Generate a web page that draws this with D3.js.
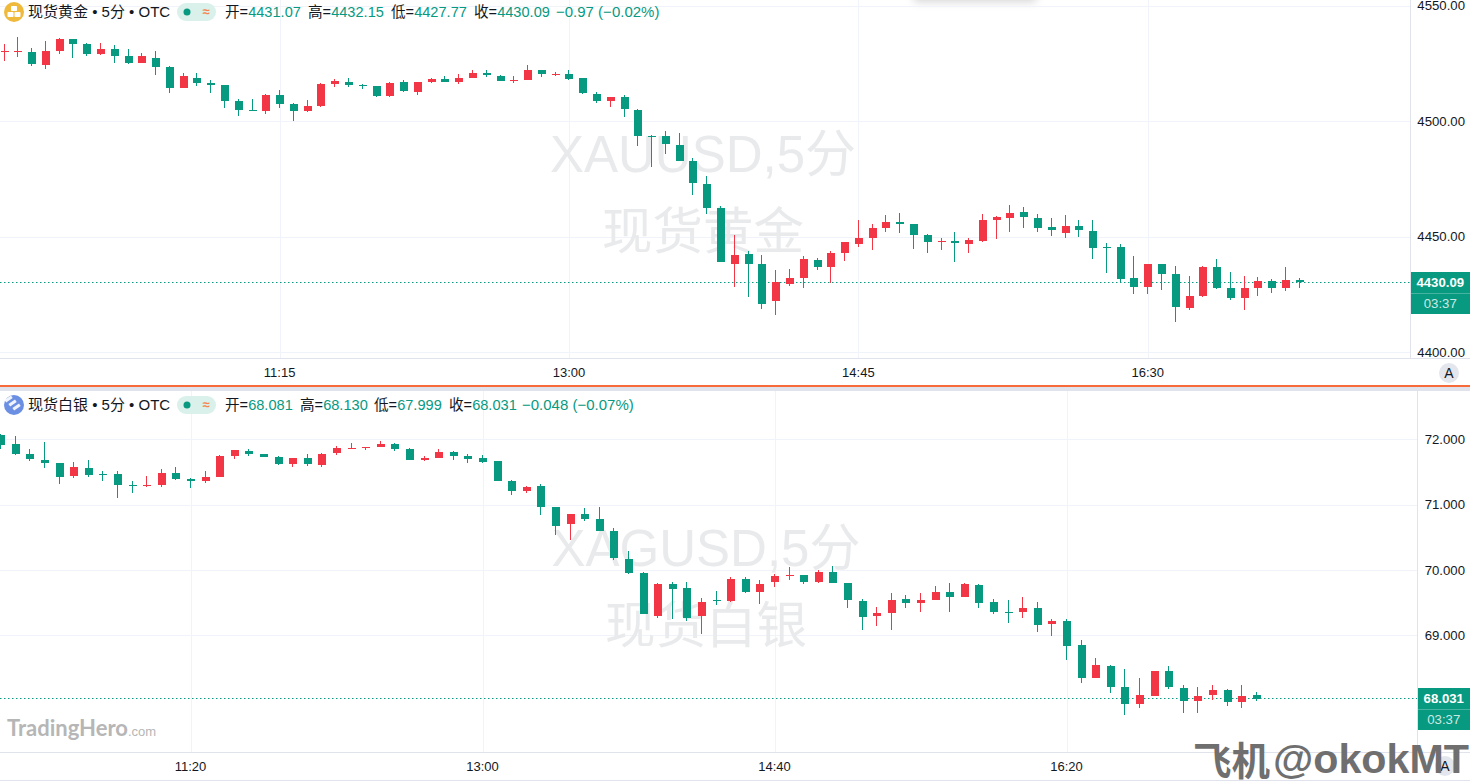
<!DOCTYPE html>
<html><head><meta charset="utf-8">
<script src="https://cdn.jsdelivr.net/npm/d3@7"></script>
<style>
html,body{margin:0;padding:0;background:#fff;overflow:hidden}
svg{display:block}
text{font-family:"Liberation Sans","Noto Sans CJK SC",sans-serif}
</style></head><body><div id="c"></div>
<script>
const goldOpen=[4529.9,4529.9,4529.9,4524.2,4530.3,4535.5,4533.3,4529.0,4531.2,4528.2,4525.1,4527.3,4523.4,4514.3,4518.6,4516.5,4515.6,4508.7,4504.8,4504.3,4511.3,4507.4,4504.3,4506.5,4516.0,4516.9,4515.6,4515.2,4510.8,4516.9,4512.6,4516.9,4518.2,4516.9,4518.6,4520.8,4519.5,4517.3,4517.7,4522.1,4519.9,4520.3,4518.6,4511.7,4508.7,4510.4,4504.8,4493.5,4493.5,4489.6,4482.7,4472.8,4462.4,4438.1,4442.4,4438.1,4422.1,4429.4,4432.1,4439.8,4436.8,4442.9,4446.8,4449.4,4453.7,4456.3,4455.4,4450.7,4447.6,4448.1,4446.8,4448.1,4457.1,4458.0,4460.6,4458.0,4454.1,4451.5,4454.5,4452.4,4445.5,4445.5,4432.1,4428.1,4438.1,4433.8,4419.1,4424.3,4436.8,4427.7,4423.4,4427.7,4430.7,4427.7,4431.07];
const goldHigh=[4533.3,4536.4,4531.6,4534.6,4535.9,4535.5,4533.8,4533.8,4532.9,4531.2,4529.4,4530.3,4523.8,4520.8,4520.8,4517.7,4515.6,4509.5,4509.5,4511.7,4513.4,4507.8,4509.1,4516.5,4518.2,4518.6,4516.0,4515.2,4516.9,4517.7,4516.9,4518.6,4519.5,4520.3,4522.1,4522.1,4519.9,4519.5,4524.2,4522.1,4521.2,4522.1,4518.6,4512.6,4510.4,4511.3,4505.2,4493.9,4495.7,4494.8,4484.0,4476.2,4463.2,4450.7,4443.7,4442.0,4435.5,4435.9,4441.6,4440.7,4443.7,4447.6,4457.1,4455.4,4459.3,4460.2,4455.4,4451.1,4449.4,4452.0,4449.4,4459.7,4458.9,4463.6,4462.8,4459.7,4458.0,4459.3,4457.1,4457.1,4447.2,4446.8,4441.6,4438.1,4438.1,4437.2,4432.9,4437.2,4440.3,4434.6,4432.9,4432.5,4431.6,4436.8,4432.15];
const goldLow=[4526.0,4527.7,4523.8,4522.5,4529.0,4527.3,4528.2,4528.6,4525.1,4524.7,4525.1,4519.9,4512.1,4514.3,4515.2,4512.1,4505.6,4502.2,4504.3,4503.0,4505.6,4500.0,4503.9,4506.1,4514.7,4514.7,4513.9,4510.4,4510.4,4512.6,4511.3,4516.5,4516.9,4516.0,4518.6,4519.0,4517.3,4516.5,4517.7,4519.0,4519.5,4517.7,4511.7,4507.8,4506.1,4501.7,4489.2,4480.1,4485.7,4482.7,4468.0,4459.7,4439.0,4428.1,4423.8,4418.7,4416.0,4428.6,4427.7,4435.5,4429.9,4439.4,4445.5,4444.2,4452.0,4451.5,4444.6,4442.9,4444.2,4439.0,4442.9,4447.6,4448.9,4452.0,4453.7,4452.0,4450.2,4449.4,4449.8,4440.3,4434.2,4430.3,4425.1,4425.1,4426.8,4413.0,4418.2,4423.8,4427.3,4422.5,4418.2,4424.3,4425.5,4426.4,4427.77];
const goldClose=[4530.3,4530.3,4524.7,4530.3,4535.5,4533.3,4529.0,4531.2,4528.2,4525.1,4528.2,4523.4,4514.3,4519.5,4516.5,4515.6,4508.7,4504.8,4504.3,4511.3,4507.4,4504.3,4506.5,4516.0,4517.3,4515.6,4515.2,4510.8,4516.5,4513.0,4516.9,4518.2,4516.9,4518.6,4520.8,4519.9,4517.3,4517.7,4522.1,4520.3,4520.3,4518.2,4512.1,4508.7,4510.4,4505.2,4493.5,4493.1,4490.0,4482.7,4473.2,4462.4,4439.0,4442.0,4438.1,4420.8,4430.3,4432.1,4440.3,4436.8,4442.9,4447.6,4449.4,4453.7,4456.3,4455.4,4450.7,4447.6,4448.1,4447.2,4448.5,4457.1,4458.4,4460.2,4458.4,4453.7,4452.8,4454.5,4452.8,4445.0,4445.0,4431.6,4428.1,4438.1,4433.8,4419.5,4424.3,4436.8,4427.7,4423.4,4427.7,4430.7,4427.7,4431.2,4430.09];

const silverOpen=[72.066,71.928,71.775,71.683,71.637,71.438,71.561,71.469,71.469,71.301,71.285,71.301,71.484,71.392,71.362,71.423,71.744,71.821,71.775,71.729,71.622,71.714,71.607,71.790,71.851,71.867,71.882,71.928,71.851,71.683,71.714,71.806,71.744,71.714,71.668,71.362,71.209,71.285,70.963,70.703,70.856,70.780,70.596,70.168,69.953,69.295,69.785,69.723,69.295,69.540,69.525,69.861,69.662,69.815,69.907,69.923,69.815,69.969,69.800,69.525,69.295,69.341,69.555,69.494,69.540,69.662,69.586,69.770,69.509,69.356,69.356,69.418,69.173,69.219,68.851,68.346,68.529,68.208,67.948,68.070,68.453,68.193,67.994,68.086,68.162,67.978,68.081];
const silverHigh=[72.081,72.051,71.851,71.959,71.637,71.653,71.683,71.515,71.515,71.362,71.438,71.545,71.576,71.408,71.515,71.760,71.836,71.851,71.775,71.744,71.714,71.775,71.790,71.897,71.943,71.882,71.974,71.943,71.867,71.744,71.851,71.821,71.775,71.760,71.668,71.377,71.285,71.316,70.963,70.856,70.948,70.963,70.642,70.290,69.969,69.800,69.815,69.815,69.571,69.678,69.892,69.892,69.846,69.938,70.045,69.923,69.999,70.060,69.800,69.555,69.433,69.647,69.617,69.647,69.754,69.800,69.800,69.785,69.555,69.540,69.586,69.509,69.249,69.249,68.927,68.652,68.545,68.484,68.346,68.453,68.529,68.239,68.208,68.239,68.177,68.239,68.130];
const silverLow=[71.851,71.760,71.668,71.561,71.316,71.408,71.423,71.362,71.102,71.178,71.270,71.270,71.377,71.254,71.331,71.423,71.698,71.744,71.729,71.607,71.576,71.591,71.576,71.760,71.851,71.836,71.882,71.821,71.683,71.668,71.714,71.683,71.637,71.637,71.362,71.148,71.178,70.841,70.534,70.458,70.749,70.596,70.152,69.938,69.326,69.265,69.249,69.219,69.019,69.463,69.509,69.647,69.479,69.739,69.846,69.785,69.800,69.800,69.418,69.080,69.142,69.080,69.418,69.356,69.540,69.356,69.586,69.418,69.326,69.188,69.265,69.050,68.989,68.621,68.269,68.346,68.116,67.780,67.887,68.070,68.177,67.810,67.810,68.009,67.917,67.887,67.999];
const silverClose=[71.913,71.775,71.698,71.637,71.423,71.576,71.454,71.454,71.301,71.285,71.301,71.484,71.392,71.362,71.423,71.744,71.836,71.775,71.729,71.622,71.714,71.622,71.775,71.867,71.867,71.882,71.928,71.851,71.683,71.714,71.806,71.744,71.698,71.653,71.362,71.209,71.270,70.963,70.673,70.856,70.780,70.596,70.183,69.953,69.326,69.785,69.708,69.265,69.509,69.525,69.861,69.662,69.785,69.907,69.923,69.815,69.969,69.800,69.540,69.280,69.341,69.540,69.494,69.540,69.662,69.586,69.785,69.494,69.356,69.341,69.418,69.158,69.219,68.835,68.346,68.545,68.208,67.948,68.086,68.453,68.208,67.994,68.070,68.162,67.978,68.070,68.031];

const goldPriceTicks=[4400,4450,4500,4550];
const silverPriceTicks=[69,70,71,72];
const goldTimeTicks=[20,41,62,83];
const goldTimeLabels=["11:15","13:00","14:45","16:30"];
const silverTimeTicks=[13,33,53,73];
const silverTimeLabels=["11:20","13:00","14:40","16:20"];

const GREEN="#089981",RED="#f23645",GRID="#f0f3fa",BORDER="#e0e3eb",INK="#131722";
const W=1470,H=782;
const svg=d3.select("#c").append("svg").attr("width",W).attr("height",H);
const defs=svg.append("defs");
defs.append("filter").attr("id","soft").attr("x","-20%").attr("y","-100%").attr("width","140%").attr("height","300%")
  .append("feGaussianBlur").attr("stdDeviation",4);

// faint shadow of a floating panel at the top edge
svg.append("rect").attr("x",914).attr("y",-14).attr("width",122).attr("height",16).attr("fill","#000").attr("fill-opacity",.16).attr("filter","url(#soft)");

const panes=[
 {name:"现货黄金",wm1:"XAUUSD,5分",wm2:"现货黄金",wmx:703,wmy1:171,wmy2:249,
  o:goldOpen,h:goldHigh,l:goldLow,c:goldClose,ticks:goldPriceTicks,fmt:d3.format(".2f"),
  x:d3.scaleLinear().domain([0,94]).range([4.5,1299.8]),
  y:d3.scaleLinear().domain([4400,4550]).range([352,5.5]),
  tt:goldTimeTicks,tl:goldTimeLabels,top:0,bottom:358,axisX:1410.5,timeY:373,axisBottom:385,
  last:4430.09,lastText:"4430.09",
  legendY:12,icon:"#efb93c",
  legend:[["开=","4431.07",225],["高=","4432.15",308],["低=","4427.77",391],["收=","4430.09",474]],change:["−0.97 (−0.02%)",556]},
 {name:"现货白银",wm1:"XAGUSD,5分",wm2:"现货白银",wmx:706,wmy1:565,wmy2:643,
  o:silverOpen,h:silverHigh,l:silverLow,c:silverClose,ticks:silverPriceTicks,fmt:d3.format(".3f"),
  x:d3.scaleLinear().domain([0,86]).range([1.2,1256.8]),
  y:d3.scaleLinear().domain([68,72]).range([700.6,439.3]),
  tt:silverTimeTicks,tl:silverTimeLabels,top:391,bottom:752,axisX:1417.5,timeY:767,axisBottom:781,
  last:68.031,lastText:"68.031",
  legendY:405,icon:"#6b8fe3",
  legend:[["开=","68.081",225],["高=","68.130",300],["低=","67.999",374],["收=","68.031",449]],change:["−0.048 (−0.07%)",522]}
];

panes.forEach(p=>{
  const g=svg.append("g");
  g.append("g").selectAll("line").data(p.ticks).join("line")
    .attr("x1",0).attr("x2",p.axisX).attr("y1",d=>Math.round(p.y(d))+.5).attr("y2",d=>Math.round(p.y(d))+.5)
    .attr("stroke",GRID);
  g.append("g").selectAll("line").data(p.tt).join("line")
    .attr("x1",d=>Math.floor(p.x(d))+.5).attr("x2",d=>Math.floor(p.x(d))+.5).attr("y1",p.top).attr("y2",p.bottom)
    .attr("stroke",GRID);
  g.append("text").attr("x",p.wmx).attr("y",p.wmy1+1).attr("text-anchor","middle").attr("font-size",51).attr("fill","#e9eaec").text(p.wm1);
  g.append("text").attr("x",p.wmx).attr("y",p.wmy2).attr("text-anchor","middle").attr("font-size",50.5).attr("fill","#e9eaec").text(p.wm2);
  const ly=Math.floor(p.y(p.last));
  g.append("line").attr("x1",0).attr("x2",p.axisX).attr("y1",ly+.5).attr("y2",ly+.5)
    .attr("stroke",GREEN).attr("stroke-dasharray","1.5,2.5");
  const idx=d3.range(p.o.length);
  const col=i=>p.c[i]>p.o[i]?RED:GREEN;
  const cg=g.append("g").attr("shape-rendering","crispEdges");
  cg.selectAll("line").data(idx).join("line")
    .attr("x1",i=>Math.round(p.x(i))-.5).attr("x2",i=>Math.round(p.x(i))-.5)
    .attr("y1",i=>Math.round(p.y(p.h[i]))).attr("y2",i=>Math.round(p.y(p.l[i])))
    .attr("stroke",col);
  cg.selectAll("rect").data(idx).join("rect")
    .attr("x",i=>Math.round(p.x(i))-4).attr("width",8)
    .attr("y",i=>Math.round(p.y(Math.max(p.o[i],p.c[i]))))
    .attr("height",i=>Math.max(1,Math.round(p.y(Math.min(p.o[i],p.c[i])))-Math.round(p.y(Math.max(p.o[i],p.c[i])))))
    .attr("fill",col);
  const ay=d3.axisRight(p.y).tickValues(p.ticks).tickFormat(p.fmt).tickSize(0).tickPadding(0);
  const ag=g.append("g").attr("transform",`translate(${W-5},0)`).call(ay);
  ag.select(".domain").remove();
  ag.selectAll("text").attr("text-anchor","end").attr("font-size",13.2).attr("font-family","Liberation Sans").attr("fill",INK);
  const ax=d3.axisBottom(p.x).tickValues(p.tt).tickFormat((d,i)=>p.tl[i]).tickSize(0).tickPadding(0);
  const tg=g.append("g").attr("transform",`translate(-1,${p.timeY-5})`).call(ax);
  tg.select(".domain").remove();
  tg.selectAll("text").attr("font-size",13).attr("font-family","Liberation Sans").attr("fill",INK);
  g.append("line").attr("x1",p.axisX).attr("x2",p.axisX).attr("y1",p.top).attr("y2",p.bottom).attr("stroke",BORDER);
  g.append("line").attr("x1",0).attr("x2",W).attr("y1",p.bottom+.5).attr("y2",p.bottom+.5).attr("stroke",BORDER);
  g.append("rect").attr("x",p.axisX+.5).attr("y",ly-10).attr("width",W-p.axisX).attr("height",42).attr("fill",GREEN);
  g.append("line").attr("x1",p.axisX+.5).attr("x2",W).attr("y1",ly+11.5).attr("y2",ly+11.5).attr("stroke","#fff").attr("stroke-opacity",.25);
  g.append("text").attr("x",(p.axisX+W)/2).attr("y",ly+5).attr("text-anchor","middle").attr("font-size",13.2).attr("font-weight",700).attr("fill","#fff").text(p.lastText);
  g.append("text").attr("x",(p.axisX+W)/2).attr("y",ly+26).attr("text-anchor","middle").attr("font-size",13.2).attr("fill","#fff").attr("fill-opacity",.8).text("03:37");
  const ly2=p.legendY;
  g.append("circle").attr("cx",14).attr("cy",ly2).attr("r",10).attr("fill",p.icon);
  if(p.name==="现货黄金"){
    [[10.5,12],[17.5,12],[14,6]].forEach(a=>g.append("rect").attr("x",a[0]-3).attr("y",ly2+a[1]-12).attr("width",6).attr("height",5).attr("rx",.8).attr("fill","#fff"));
  } else {
    [-4,0,4].forEach(d=>g.append("rect").attr("x",9+d+1).attr("y",ly2-4+d).attr("width",8).attr("height",3).attr("transform",`rotate(-35 ${14+d} ${ly2+d})`).attr("fill","#fff").attr("fill-opacity",.9));
  }
  g.append("text").attr("x",28).attr("y",ly2+5).attr("font-size",15).attr("fill",INK).text(p.name+" • 5分 • OTC");
  g.append("rect").attr("x",177).attr("y",ly2-9).attr("width",39).attr("height",18).attr("rx",9).attr("fill","#daf0eb");
  g.append("circle").attr("cx",187).attr("cy",ly2).attr("r",3.5).attr("fill",GREEN);
  g.append("text").attr("x",206).attr("y",ly2+4).attr("text-anchor","middle").attr("font-size",13).attr("font-weight",700).attr("fill","#f7844f").text("≈");
  p.legend.forEach(a=>{
    const t=g.append("text").attr("x",a[2]).attr("y",ly2+5).attr("font-size",14.6);
    t.append("tspan").attr("fill",INK).text(a[0]);
    t.append("tspan").attr("fill",GREEN).text(a[1]);
  });
  g.append("text").attr("x",p.change[1]).attr("y",ly2+5).attr("font-size",15).attr("fill",GREEN).text(p.change[0]);
});

svg.append("rect").attr("x",0).attr("y",387).attr("width",W).attr("height",4).attr("fill","#e0e3eb");
svg.append("rect").attr("x",0).attr("y",385).attr("width",W).attr("height",2).attr("fill","#f76b3b");
svg.append("line").attr("x1",0).attr("x2",W).attr("y1",780.5).attr("y2",780.5).attr("stroke",BORDER);

[[1449,373],[1445,766]].forEach(a=>{
  svg.append("circle").attr("cx",a[0]).attr("cy",a[1]).attr("r",10).attr("fill","#e4e6ee");
  svg.append("text").attr("x",a[0]).attr("y",a[1]+5).attr("text-anchor","middle").attr("font-size",14).attr("fill",INK).text("A");
});

const th=svg.append("text").attr("x",7).attr("y",736);
th.append("tspan").attr("font-size",22).attr("font-weight",700).attr("font-family","Lato,Liberation Sans").attr("fill","#b6b6b6").text("TradingHero");
th.append("tspan").attr("font-size",13).attr("fill","#b6b6b6").text(".com");

svg.append("text").attr("x",1193).attr("y",775).attr("font-size",38.5).attr("font-weight",700).attr("fill","#6f6f6f").attr("font-family","Noto Sans CJK SC").text("飞机");
svg.append("text").attr("x",1273).attr("y",773).attr("font-size",40).attr("font-weight",700).attr("fill","#6f6f6f").attr("font-family","Liberation Sans").attr("textLength",196).attr("lengthAdjust","spacingAndGlyphs").text("@okokMT");
</script></body></html>
